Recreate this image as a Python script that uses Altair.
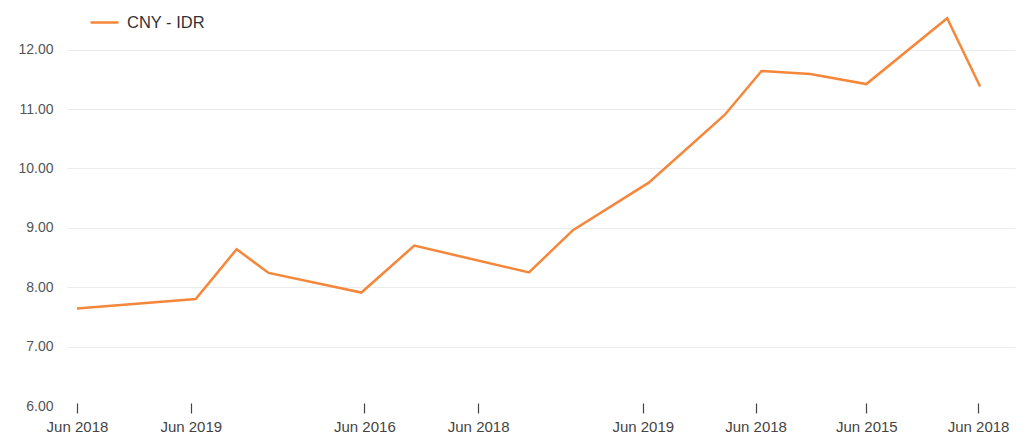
import altair as alt
import pandas as pd

# x positions in months from the start of the series, y = CNY-IDR rate (thousands)
months = [1.0, 12.9, 17.0, 20.2, 29.5, 34.8, 46.3, 50.7, 58.3, 65.9, 69.6, 74.5, 80.1, 88.2, 91.5]
rates = [7.64, 7.80, 8.64, 8.24, 7.91, 8.70, 8.25, 8.96, 9.76, 10.90, 11.64, 11.59, 11.42, 12.53, 11.38]
series_name = "CNY - IDR"

tick_months = [1.0, 12.4, 29.8, 41.2, 57.7, 69.0, 80.1, 91.3]
tick_labels = ["Jun 2018", "Jun 2019", "Jun 2016", "Jun 2018", "Jun 2019", "Jun 2018", "Jun 2015", "Jun 2018"]
y_ticks = [6, 7, 8, 9, 10, 11, 12]

df = pd.DataFrame({"month": months, "rate": rates, "series": [series_name] * len(months)})

label_expr = (
    "[" + ",".join("'%s'" % s for s in tick_labels) + "]"
    + "[indexof([" + ",".join(repr(v) for v in tick_months) + "], datum.value)]"
)

chart = alt.Chart(df).mark_line(strokeWidth=2.5, color="#f5873a").encode(
    x=alt.X(
        "month:Q",
        scale=alt.Scale(domain=[0, 95], nice=False, zero=False),
        axis=alt.Axis(
            title=None, values=tick_months, labelExpr=label_expr, grid=False,
            domain=False, ticks=True, tickSize=10, tickColor="#444",
            tickWidth=1.2, labelFontSize=15, labelColor="#444", labelPadding=6,
            labelFont="Liberation Sans", offset=-3,
        ),
    ),
    y=alt.Y(
        "rate:Q",
        scale=alt.Scale(domain=[6, 12.6], nice=False, zero=False),
        axis=alt.Axis(
            title=None, values=y_ticks, format=".2f", grid=True, gridColor="#ececec",
            gridOpacity={"condition": {"test": "datum.value == 6", "value": 0}, "value": 1},
            gridWidth=1, domain=False, ticks=False, labelPadding=14, labelFontSize=14,
            labelColor="#555", labelFont="Liberation Sans",
        ),
    ),
    color=alt.Color(
        "series:N",
        scale=alt.Scale(domain=[series_name], range=["#f5873a"]),
        legend=alt.Legend(
            title=None, orient="none", legendX=22, legendY=-7, symbolType="stroke",
            symbolStrokeWidth=2.5, symbolSize=784, labelFontSize=16.5, labelColor="#333",
            labelFont="Liberation Sans", labelOffset=7,
        ),
    ),
).properties(
    width=948, height=392,
    autosize=alt.AutoSizeParams(type="none"),
    padding={"left": 59, "top": 6, "right": 1, "bottom": 30},
).configure_view(stroke=None)

chart.save("out.html", embed_options={"renderer": "svg", "actions": False})
